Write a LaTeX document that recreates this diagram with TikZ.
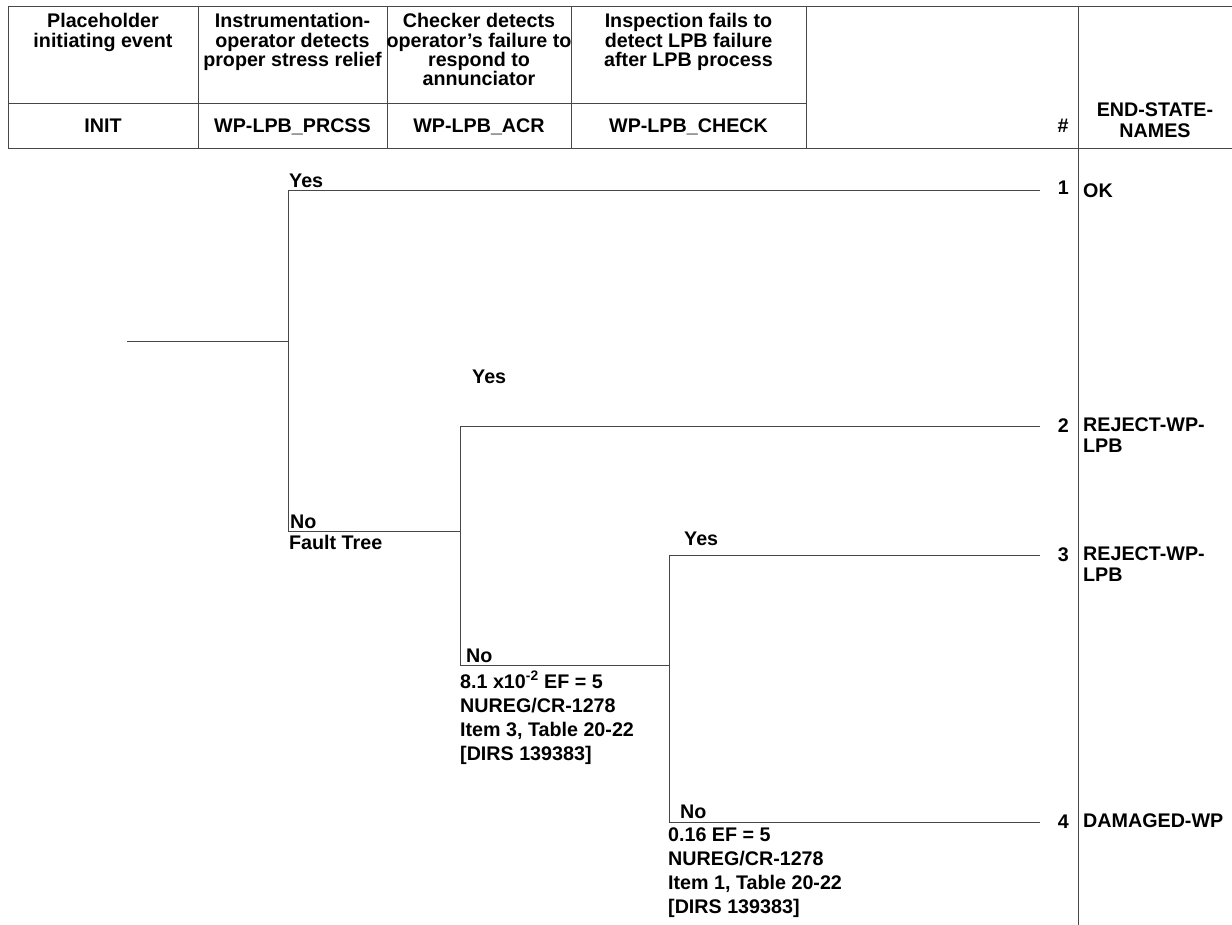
\documentclass[tikz,border=0pt]{standalone}
\usepackage{fontspec}
\setmainfont{Liberation Sans}
\begin{document}
\begin{tikzpicture}[x=1pt,y=-1pt,
  font=\fontsize{19.7}{19.2}\selectfont\bfseries,
  tline/.style={draw=black!72, line width=1pt},
  hdr/.style={align=center, inner sep=0, anchor=north},
  cell/.style={inner sep=0, anchor=base},
  lbl/.style={inner sep=0, align=left},
  note/.style={inner sep=0, align=left, anchor=north west, font=\fontsize{19.7}{24}\selectfont\bfseries},
  num/.style={inner sep=0, anchor=base east},
  esn/.style={inner sep=0, align=left, anchor=north west, font=\fontsize{19.7}{20.5}\selectfont\bfseries}]
\useasboundingbox (0,0) rectangle (1232,925);
% header frame
\draw[tline] (8,149) -- (8,7) -- (1232,7);
\draw[tline] (8,149) -- (1232,149);
\draw[tline] (8,104) -- (806,104);
\foreach \x in {198,387,571,806} \draw[tline] (\x,7) -- (\x,149);
\draw[tline] (1078,7) -- (1078,925);
% header texts
\node[hdr] (h1) at (103,13.5) {Placeholder\\initiating event};
\node[hdr] (h2) at (292.5,13.5) {Instrumentation-\\operator detects\\proper stress relief};
\node[hdr] (h3) at (479,13.5) {Checker detects\\operator’s failure to\\respond to\\annunciator};
\node[hdr] (h4) at (688.5,13.5) {Inspection fails to\\detect LPB failure\\after LPB process};
\node[cell] (c1) at (103,133) {INIT};
\node[cell] (c2) at (292.5,133) {WP-LPB\_PRCSS};
\node[cell] (c3) at (479,133) {WP-LPB\_ACR};
\node[cell] (c4) at (688.5,133) {WP-LPB\_CHECK};
\node[cell] (c5) at (1063,133) {\#};
\node[cell] (c6a) at (1155,117) {END-STATE-};
\node[cell] (c6b) at (1155,138) {NAMES};
% tree
\coordinate (s) at (127,342);
\coordinate (n1) at (288,342);
\coordinate (y1) at (288,191);
\coordinate (e1) at (1040,191);
\coordinate (no1) at (288,531);
\coordinate (n2) at (460,531);
\coordinate (y2) at (460,426);
\coordinate (e2) at (1040,426);
\coordinate (no2) at (460,665);
\coordinate (n3) at (669,665);
\coordinate (y3) at (669,555);
\coordinate (e3) at (1040,555);
\coordinate (no3) at (669,822);
\coordinate (e4) at (1040,822);
\draw[tline] (s) -- (n1);
\draw[tline] (e1) -- (y1) -- (no1) -- (n2);
\draw[tline] (e2) -- (y2) -- (no2) -- (n3);
\draw[tline] (e3) -- (y3) -- (no3) -- (e4);
% branch labels
\node[lbl, anchor=south west] (ly1) at (289,188) {Yes};
\node[lbl, anchor=south west] (ln1) at (290,529) {No};
\node[note] (ft1) at (289,535) {Fault Tree};
\node[lbl, anchor=south west] (ly2) at (472,384) {Yes};
\node[lbl, anchor=south west] (ln2) at (466,663) {No};
\node[note] (ft2) at (460,671) {8.1 x10\textsuperscript{-2} EF = 5\\NUREG/CR-1278\\Item 3, Table 20-22\\{}[DIRS 139383]};
\node[lbl, anchor=south west] (ly3) at (684,546) {Yes};
\node[lbl, anchor=south west] (ln3) at (680,819) {No};
\node[note] (ft3) at (668,828) {0.16 EF = 5\\NUREG/CR-1278\\Item 1, Table 20-22\\{}[DIRS 139383]};
% end states
\node[num] (k1) at (1069,195) {1};
\node[num] (k2) at (1069,432) {2};
\node[num] (k3) at (1069,561) {3};
\node[num] (k4) at (1069,828) {4};
\node[esn] (s1) at (1083,184) {OK};
\node[esn] (s2) at (1083,418) {REJECT-WP-\\LPB};
\node[esn] (s3) at (1083,547) {REJECT-WP-\\LPB};
\node[esn] (s4) at (1083,814) {DAMAGED-WP};
\end{tikzpicture}
\end{document}
